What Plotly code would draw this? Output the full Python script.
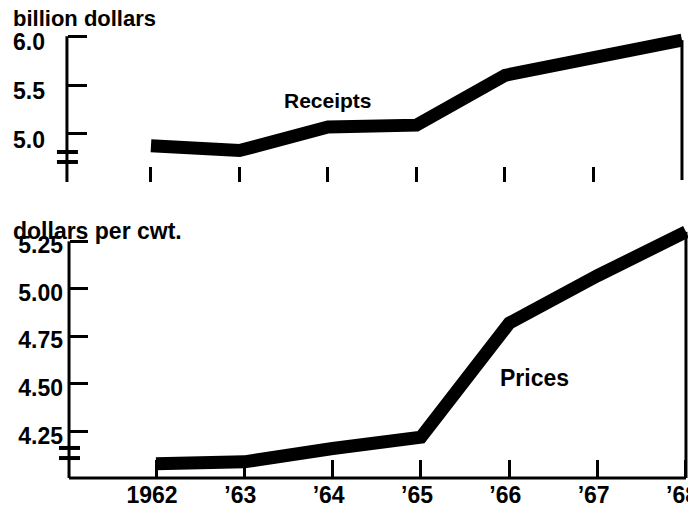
import plotly.graph_objects as go

# ---- data ----
years = [1962, 1963, 1964, 1965, 1966, 1967, 1968]
year_labels = ["1962", "’63", "’64", "’65", "’66", "’67", "’68"]
receipts = [4.88, 4.83, 5.07, 5.09, 5.60, 5.77, 5.96]   # billion dollars
prices = [4.08, 4.09, 4.16, 4.22, 4.82, 5.07, 5.30]     # dollars per cwt.
receipt_ticks = [5.0, 5.5, 6.0]
receipt_tick_labels = ["5.0", "5.5", "6.0"]
price_ticks = [4.25, 4.50, 4.75, 5.00, 5.25]
price_tick_labels = ["4.25", "4.50", "4.75", "5.00", "5.25"]

FONT = "Liberation Sans"
XR_TOP = [1960.972, 1968.102]
XR_BOT = [1960.913, 1968.057]
YR_TOP = [4.508, 6.166]
YR_BOT = [4.005, 5.352]
POS_TOP = 0.011
POS_BOT = 0.0143
PLOT_W = 631.0

fig = go.Figure()
fig.add_trace(go.Scatter(x=years, y=receipts, mode="lines",
                         line=dict(color="black", width=13),
                         xaxis="x", yaxis="y", hoverinfo="skip"))
fig.add_trace(go.Scatter(x=years, y=prices, mode="lines",
                         line=dict(color="black", width=13),
                         xaxis="x2", yaxis="y2", hoverinfo="skip"))

def tf(size):
    return dict(family=FONT, size=size, color="black", weight="bold")

common = dict(showgrid=False, zeroline=False, showline=False, automargin=False,
              tickcolor="black")

# the page body adds an 8px offset, so the figure is sized to fit inside the window
fig.update_layout(
    width=688, height=497,
    margin=dict(l=52, r=5, t=12, b=27, autoexpand=False),
    paper_bgcolor="white", plot_bgcolor="white",
    showlegend=False,
    xaxis=dict(domain=[0, 1], range=XR_TOP, anchor="y",
               tickmode="array", tickvals=years[:-1], ticks="inside",
               ticklen=15, tickwidth=3, showticklabels=False, **common),
    yaxis=dict(domain=[0.6463, 1.0], range=YR_TOP, anchor="free", position=POS_TOP,
               tickmode="array", tickvals=receipt_ticks, ticktext=receipt_tick_labels,
               ticks="inside", ticklen=19, tickwidth=3, ticklabelstandoff=22,
               ticklabelshift=6, tickfont=tf(23), **common),
    xaxis2=dict(domain=[0, 1], range=XR_BOT, anchor="y2",
                tickmode="array", tickvals=years, ticktext=year_labels,
                ticks="inside", ticklen=18, tickwidth=3, ticklabelstandoff=1,
                ticklabelshift=-4, ticklabeloverflow="allow", tickfont=tf(23), **common),
    yaxis2=dict(domain=[0, 0.559], range=YR_BOT, anchor="free", position=POS_BOT,
                tickmode="array", tickvals=price_ticks, ticktext=price_tick_labels,
                ticks="inside", ticklen=18, tickwidth=3, ticklabelstandoff=6,
                ticklabelshift=4, tickfont=tf(23), **common),
)

x_axis_start = XR_BOT[0] + POS_BOT * (XR_BOT[1] - XR_BOT[0])
shapes = [
    # vertical axis lines
    dict(type="line", xref="paper", yref="y", x0=POS_TOP, x1=POS_TOP,
         y0=YR_TOP[0], y1=receipt_ticks[-1], line=dict(color="black", width=3)),
    dict(type="line", xref="paper", yref="y2", x0=POS_BOT, x1=POS_BOT,
         y0=YR_BOT[0], y1=price_ticks[-1], line=dict(color="black", width=3)),
    # bottom x axis line
    dict(type="line", xref="x2", yref="y2 domain", x0=x_axis_start, x1=years[-1],
         y0=0, y1=0, line=dict(color="black", width=3)),
    # right-hand verticals at 1968
    dict(type="line", xref="x", yref="y", x0=years[-1], x1=years[-1],
         y0=YR_TOP[0] + 0.02, y1=receipts[-1], line=dict(color="black", width=3)),
    dict(type="line", xref="x2", yref="y2", x0=years[-1], x1=years[-1],
         y0=YR_BOT[0], y1=prices[-1], line=dict(color="black", width=3)),
]
# axis break marks
for yref, pos, levels in [("y", POS_TOP, [4.815, 4.713]), ("y2", POS_BOT, [4.163, 4.110])]:
    for lv in levels:
        shapes.append(dict(type="line", xref="paper", yref=yref,
                           x0=pos - 10 / PLOT_W, x1=pos + 11 / PLOT_W, y0=lv, y1=lv,
                           line=dict(color="black", width=4)))
fig.update_layout(shapes=shapes)

annotations = [
    dict(text="billion dollars", xref="paper", yref="paper",
         x=(11 - 60) / PLOT_W, y=1.003, xanchor="left", yanchor="middle",
         showarrow=False, font=tf(22)),
    dict(text="dollars per cwt.", xref="paper", yref="paper",
         x=(11 - 60) / PLOT_W, y=0.540, xanchor="left", yanchor="middle",
         showarrow=False, font=tf(23)),
    dict(text="Receipts", xref="x", yref="y", x=1964.0, y=5.34,
         xanchor="center", yanchor="middle", showarrow=False, font=tf(21)),
    dict(text="Prices", xref="x2", yref="y2", x=1966.29, y=4.53,
         xanchor="center", yanchor="middle", showarrow=False, font=tf(23)),
]
fig.update_layout(annotations=annotations)

fig.write_html("out.html")
